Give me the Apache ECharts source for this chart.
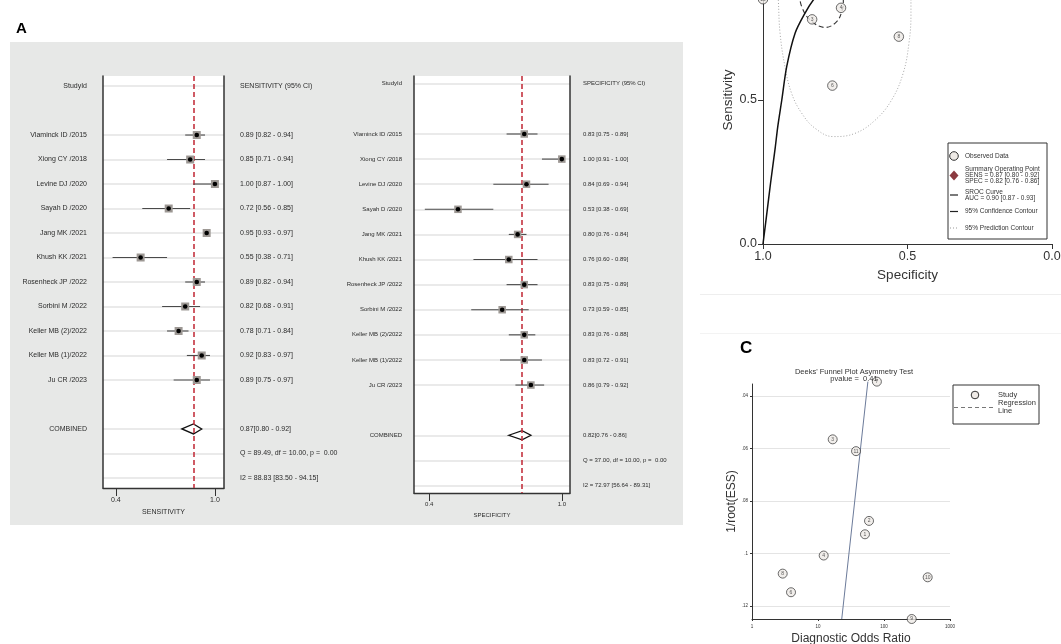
<!DOCTYPE html>
<html>
<head>
<meta charset="utf-8">
<script src="https://cdn.jsdelivr.net/npm/echarts@6/dist/echarts.min.js"></script>
<style>
html, body { margin: 0; padding: 0; background: #ffffff; }
#chart { width: 1061px; height: 644px; }
</style>
</head>
<body>
<div id="chart"></div>
<script>
// ---- Study-level accuracy estimates ----
const studies = ['Vlaminck ID /2015', 'Xiong CY /2018', 'Levine DJ /2020', 'Sayah D /2020',
  'Jang MK /2021', 'Khush KK /2021', 'Rosenheck JP /2022', 'Sorbini M /2022',
  'Keller MB (2)/2022', 'Keller MB (1)/2022', 'Ju CR /2023'];
const studyIds = [11, 10, 9, 8, 7, 6, 5, 4, 3, 2, 1];

const sens   = [0.89, 0.85, 1.00, 0.72, 0.95, 0.55, 0.89, 0.82, 0.78, 0.92, 0.89];
const sensLo = [0.82, 0.71, 0.87, 0.56, 0.93, 0.38, 0.82, 0.68, 0.71, 0.83, 0.75];
const sensHi = [0.94, 0.94, 1.00, 0.85, 0.97, 0.71, 0.94, 0.91, 0.84, 0.97, 0.97];

const spec   = [0.83, 1.00, 0.84, 0.53, 0.80, 0.76, 0.83, 0.73, 0.83, 0.83, 0.86];
const specLo = [0.75, 0.91, 0.69, 0.38, 0.76, 0.60, 0.75, 0.59, 0.76, 0.72, 0.79];
const specHi = [0.89, 1.00, 0.94, 0.69, 0.84, 0.89, 0.89, 0.85, 0.88, 0.91, 0.92];

// pooled estimate [value, lower, upper]
const sensPooled = [0.87, 0.80, 0.92];
const specPooled = [0.82, 0.76, 0.86];
const aucPooled  = [0.90, 0.87, 0.93];

const sensHet = ['Q = 89.49, df = 10.00, p =  0.00', 'I2 = 88.83 [83.50 - 94.15]'];
const specHet = ['Q = 37.00, df = 10.00, p =  0.00', 'I2 = 72.97 [56.64 - 89.31]'];

const forestTicks = [0.4, 1.0];

// ---- SROC panel: [specificity, sensitivity] ----
const srocCurve = [[1.0, 0.0], [0.9875, 0.1], [0.974, 0.21], [0.958, 0.332], [0.949, 0.407],
  [0.935, 0.5], [0.918, 0.616], [0.889, 0.732], [0.855, 0.801], [0.826, 0.847],
  [0.78, 0.90], [0.6, 0.96], [0.3, 0.99], [0.0, 1.0]];
const confContour = [[0.875, 0.87], [0.866, 0.824], [0.837, 0.778], [0.785, 0.752],
  [0.745, 0.772], [0.726, 0.8125], [0.722, 0.847], [0.725, 0.88]];
const predContour = [[0.95, 0.90], [0.947, 0.847], [0.941, 0.732], [0.924, 0.616], [0.901, 0.523],
  [0.866, 0.454], [0.82, 0.402], [0.757, 0.373], [0.682, 0.384], [0.612, 0.43],
  [0.555, 0.5], [0.515, 0.593], [0.495, 0.697], [0.488, 0.80], [0.488, 0.88]];

// ---- Deeks' funnel plot ----
const deeksDor    = [78, 16.7, 37.7, 59.3, 51.5, 12.2, 2.92, 3.9, 459, 263];
const deeksInvEss = [0.0345, 0.0565, 0.061, 0.0876, 0.0927, 0.1008, 0.1077, 0.1148, 0.1091, 0.125];
const deeksIds    = [7, 3, 11, 2, 1, 4, 8, 6, 10, 9];
const deeksLine   = [[22.9, 0.125], [57, 0.0345]];
const deeksPvalue = 0.41;
const deeksYTicks = [0.04, 0.06, 0.08, 0.1, 0.12];

const FONT = 'Liberation Sans, Arial, sans-serif';
const TXT = '#2b2b2b';

// ---- Forest plot helpers ----
const studyRows = studies.map((_, i) => i + 2);
const pooledRow = 14;
const labelRows = [0, ...studyRows, pooledRow];
const statRows = [0, ...studyRows, pooledRow, 15, 16];

function ciText(v, lo, hi) {
  return v.toFixed(2) + ' [' + lo.toFixed(2) + ' - ' + hi.toFixed(2) + ']';
}

function forestRenderer(sq, dotR) {
  return function (params, api) {
    const row = api.value(0), v = api.value(1), lo = api.value(2), hi = api.value(3);
    const a = api.coord([lo, row]), b = api.coord([hi, row]), c = api.coord([v, row]);
    return {
      type: 'group',
      children: [
        { type: 'line', shape: { x1: a[0], y1: a[1], x2: b[0], y2: b[1] },
          style: { stroke: '#4a4a4a', lineWidth: 1.1 } },
        { type: 'rect', shape: { x: c[0] - sq / 2, y: c[1] - sq / 2, width: sq, height: sq },
          style: { fill: '#9d9894' } },
        { type: 'circle', shape: { cx: c[0], cy: c[1], r: dotR }, style: { fill: '#000' } }
      ]
    };
  };
}

function diamondRenderer(halfH) {
  return function (params, api) {
    const row = api.value(0), v = api.value(1), lo = api.value(2), hi = api.value(3);
    const l = api.coord([lo, row]), r = api.coord([hi, row]), c = api.coord([v, row]);
    return {
      type: 'polygon',
      shape: { points: [[l[0], l[1]], [c[0], c[1] - halfH], [r[0], r[1]], [c[0], c[1] + halfH]] },
      style: { fill: '#ffffff', stroke: '#111', lineWidth: 1.3 }
    };
  };
}

function buildForest(cfg) {
  const g = cfg.grid;
  const est = cfg.est, lo = cfg.lo, hi = cfg.hi, pooled = cfg.pooled, het = cfg.het;
  const rightText = function (v) {
    if (v === 0) return cfg.header;
    if (v === pooledRow) return pooled[0].toFixed(2) + '[' + pooled[1].toFixed(2) + ' - ' + pooled[2].toFixed(2) + ']';
    if (v === 15) return het[0];
    if (v === 16) return het[1];
    const i = v - 2;
    return ciText(est[i], lo[i], hi[i]);
  };
  const leftText = function (v) {
    if (v === 0) return 'StudyId';
    if (v === pooledRow) return 'COMBINED';
    return studies[v - 2];
  };
  const xAxis = {
    gridIndex: g, type: 'value', min: cfg.xMin, max: cfg.xMax,
    name: cfg.axisName, nameLocation: 'middle', nameGap: cfg.nameGap,
    nameTextStyle: { fontFamily: FONT, fontSize: cfg.font, color: TXT },
    axisLine: { show: true, onZero: false, lineStyle: { color: '#333', width: 1.3 } },
    axisTick: { show: true, customValues: forestTicks, length: 8, lineStyle: { color: '#333', width: 1 } },
    axisLabel: { customValues: forestTicks, formatter: v => v.toFixed(1), margin: cfg.labelMargin,
      fontFamily: FONT, fontSize: cfg.font, color: TXT },
    splitLine: { show: false }
  };
  const yLeft = {
    gridIndex: g, type: 'value', inverse: true, min: cfg.yMin, max: cfg.yMax, position: 'left',
    axisLine: { show: true, onZero: false, lineStyle: { color: '#333', width: 1.5 } },
    axisTick: { show: false, customValues: statRows },
    axisLabel: { customValues: labelRows, formatter: leftText, margin: cfg.leftMargin,
      fontFamily: FONT, fontSize: cfg.font, color: TXT },
    splitLine: { show: true, lineStyle: { color: '#e3e3e3', width: 1.5 } }
  };
  const yRight = {
    gridIndex: g, type: 'value', inverse: true, min: cfg.yMin, max: cfg.yMax, position: 'right',
    axisLine: { show: true, onZero: false, lineStyle: { color: '#333', width: 1.5 } },
    axisTick: { show: false, customValues: statRows },
    axisLabel: { customValues: statRows, formatter: rightText, margin: cfg.rightMargin,
      fontFamily: FONT, fontSize: cfg.font, color: TXT },
    splitLine: { show: false }
  };
  const rows = studies.map((_, i) => [i + 2, est[i], lo[i], hi[i]]);
  const series = [
    {
      type: 'custom', xAxisIndex: cfg.xIndex, yAxisIndex: cfg.yIndex,
      renderItem: diamondRenderer(cfg.diamondH),
      encode: { x: [1, 2, 3], y: 0 },
      data: [[pooledRow, pooled[0], pooled[1], pooled[2]]],
      z: 4,
      markLine: {
        silent: true, symbol: 'none', label: { show: false },
        lineStyle: { color: '#c4323f', type: [5, 3], width: 1.6 },
        data: [{ xAxis: pooled[0] }]
      }
    },
    {
      type: 'custom', xAxisIndex: cfg.xIndex, yAxisIndex: cfg.yIndex,
      renderItem: forestRenderer(cfg.sq, 2.3),
      encode: { x: [1, 2, 3], y: 0 },
      data: rows, z: 5
    }
  ];
  return { xAxis, yAxes: [yLeft, yRight], series };
}

const forestSens = buildForest({
  grid: 0, xIndex: 0, yIndex: 0, est: sens, lo: sensLo, hi: sensHi, pooled: sensPooled, het: sensHet,
  header: 'SENSITIVITY (95% CI)', axisName: 'SENSITIVITY', xMin: 0.322, xMax: 1.055,
  yMin: -0.41, yMax: 16.41, font: 7, nameGap: 17, labelMargin: 9, leftMargin: 16, rightMargin: 16,
  sq: 8, diamondH: 5
});
const forestSpec = buildForest({
  grid: 1, xIndex: 1, yIndex: 2, est: spec, lo: specLo, hi: specHi, pooled: specPooled, het: specHet,
  header: 'SPECIFICITY (95% CI)', axisName: 'SPECIFICITY', xMin: 0.331, xMax: 1.037,
  yMin: -0.31, yMax: 16.3, font: 6, nameGap: 14, labelMargin: 8, leftMargin: 12, rightMargin: 13,
  sq: 7.5, diamondH: 4.5
});

// ---- Marker style shared by the SROC and funnel panels ----
const studyMarker = {
  symbol: 'circle',
  itemStyle: { color: '#eeeae6', borderColor: '#333', borderWidth: 0.9 },
  label: { show: true, position: 'inside', fontFamily: FONT, fontSize: 5, color: '#333',
    formatter: p => String(p.value[2]) }
};

const srocPoints = studies.map((_, i) => [spec[i], sens[i], studyIds[i]]);
const deeksPoints = deeksDor.map((d, i) => [d, deeksInvEss[i], deeksIds[i]]);

// ---- Legends (drawn as graphic groups) ----
const lgFont = { fontFamily: FONT, fontSize: 6.5, fill: '#333' };
function lgText(x, y, text, size) {
  return { type: 'text', x: x, y: y,
    style: Object.assign({}, lgFont, { text: text, verticalAlign: 'middle', fontSize: size || 6.5 }) };
}
const srocLegend = [
  { type: 'rect', shape: { x: 948, y: 143, width: 99, height: 96 },
    style: { fill: '#ffffff', stroke: '#333', lineWidth: 1 } },
  { type: 'circle', shape: { cx: 954, cy: 156, r: 4.3 }, style: { fill: '#eeeae6', stroke: '#333', lineWidth: 1 } },
  lgText(965, 156, 'Observed Data'),
  { type: 'polygon', shape: { points: [[954, 170.5], [958.5, 175.5], [954, 180.5], [949.5, 175.5]] },
    style: { fill: '#8b3a40' } },
  lgText(965, 169.5, 'Summary Operating Point'),
  lgText(965, 175.5, 'SENS = ' + sensPooled[0].toFixed(2) + ' [' + sensPooled[1].toFixed(2) + ' - ' + sensPooled[2].toFixed(2) + ']'),
  lgText(965, 181.5, 'SPEC = ' + specPooled[0].toFixed(2) + ' [' + specPooled[1].toFixed(2) + ' - ' + specPooled[2].toFixed(2) + ']'),
  { type: 'line', shape: { x1: 950, y1: 195, x2: 958, y2: 195 }, style: { stroke: '#222', lineWidth: 1.2 } },
  lgText(965, 192.5, 'SROC Curve'),
  lgText(965, 198.5, 'AUC = ' + aucPooled[0].toFixed(2) + ' [' + aucPooled[1].toFixed(2) + ' - ' + aucPooled[2].toFixed(2) + ']'),
  { type: 'line', shape: { x1: 950, y1: 211.5, x2: 958, y2: 211.5 }, style: { stroke: '#222', lineWidth: 1.2 } },
  lgText(965, 211.5, '95% Confidence Contour'),
  { type: 'line', shape: { x1: 950, y1: 228, x2: 958, y2: 228 },
    style: { stroke: '#999', lineWidth: 1, lineDash: [1, 2] } },
  lgText(965, 228, '95% Prediction Contour')
];
const deeksLegend = [
  { type: 'rect', shape: { x: 953, y: 385, width: 86, height: 39 },
    style: { fill: '#ffffff', stroke: '#333', lineWidth: 1 } },
  { type: 'circle', shape: { cx: 975, cy: 395, r: 3.8 }, style: { fill: '#eeeae6', stroke: '#333', lineWidth: 1 } },
  lgText(998, 395, 'Study', 7.5),
  { type: 'line', shape: { x1: 954, y1: 407.5, x2: 993, y2: 407.5 },
    style: { stroke: '#777', lineWidth: 1, lineDash: [4, 3] } },
  lgText(998, 403, 'Regression', 7.5),
  lgText(998, 411, 'Line', 7.5)
];

const chart = echarts.init(document.getElementById('chart'), null, { renderer: 'canvas' });

chart.setOption({
  backgroundColor: '#ffffff',
  animation: false,
  textStyle: { fontFamily: FONT },
  title: [
    { text: 'A', left: 11, top: 16, textStyle: { fontFamily: FONT, fontSize: 15, fontWeight: 'bold', color: '#000' } },
    { text: 'C', left: 735, top: 335, textStyle: { fontFamily: FONT, fontSize: 17, fontWeight: 'bold', color: '#000' } },
    { text: "Deeks' Funnel Plot Asymmetry Test\npvalue =  " + deeksPvalue.toFixed(2), left: 849, top: 364,
      textAlign: 'center',
      textStyle: { fontFamily: FONT, fontSize: 7.5, lineHeight: 6.5, fontWeight: 'normal', color: '#333' } }
  ],
  graphic: [
    { type: 'rect', z: -10, shape: { x: 10, y: 42, width: 673, height: 483 }, style: { fill: '#e7e8e7' } },
    { type: 'line', z: -10, shape: { x1: 700, y1: 294.5, x2: 1061, y2: 294.5 }, style: { stroke: '#eeeeee', lineWidth: 1 } },
    { type: 'line', z: -10, shape: { x1: 700, y1: 333.5, x2: 1061, y2: 333.5 }, style: { stroke: '#f3f3f3', lineWidth: 1 } },
    { type: 'group', children: srocLegend, z: 20 },
    { type: 'group', children: deeksLegend, z: 20 }
  ],
  grid: [
    { left: 103, top: 76, width: 121, height: 412, show: true, backgroundColor: '#ffffff', borderWidth: 0, outerBoundsMode: 'none' },
    { left: 414, top: 76, width: 156, height: 417, show: true, backgroundColor: '#ffffff', borderWidth: 0, outerBoundsMode: 'none' },
    { left: 763, top: -44, width: 289, height: 288, outerBoundsMode: 'none' },
    { left: 752, top: 384, width: 198, height: 235, outerBoundsMode: 'none' }
  ],
  xAxis: [
    forestSens.xAxis,
    forestSpec.xAxis,
    {
      gridIndex: 2, type: 'value', min: 0, max: 1, interval: 0.5, inverse: true,
      name: 'Specificity', nameLocation: 'middle', nameGap: 24,
      nameTextStyle: { fontFamily: FONT, fontSize: 13.5, color: '#333' },
      axisLine: { show: true, onZero: false, lineStyle: { color: '#333', width: 1 } },
      axisTick: { show: true, length: 5, lineStyle: { color: '#333' } },
      axisLabel: { formatter: v => v.toFixed(1), fontFamily: FONT, fontSize: 12.5, color: '#333', margin: 6 },
      splitLine: { show: false }
    },
    {
      gridIndex: 3, type: 'log', logBase: 10, min: 1, max: 1000,
      name: 'Diagnostic Odds Ratio', nameLocation: 'middle', nameGap: 14,
      nameTextStyle: { fontFamily: FONT, fontSize: 12, color: '#333' },
      axisLine: { show: true, onZero: false, lineStyle: { color: '#333', width: 1 } },
      axisTick: { show: true, length: 2, lineStyle: { color: '#333' } },
      axisLabel: { formatter: v => String(Math.round(v)), fontFamily: FONT, fontSize: 4.5, color: '#333', margin: 5 },
      splitLine: { show: false }
    }
  ],
  yAxis: [
    forestSens.yAxes[0], forestSens.yAxes[1],
    forestSpec.yAxes[0], forestSpec.yAxes[1],
    {
      gridIndex: 2, type: 'value', min: 0, max: 1, interval: 0.5,
      name: 'Sensitivity', nameLocation: 'middle', nameGap: 28, nameRotate: 90,
      nameTextStyle: { fontFamily: FONT, fontSize: 13.5, color: '#333' },
      axisLine: { show: true, onZero: false, lineStyle: { color: '#333', width: 1 } },
      axisTick: { show: true, length: 5, lineStyle: { color: '#333' } },
      axisLabel: { formatter: v => v.toFixed(1), fontFamily: FONT, fontSize: 12.5, color: '#333', margin: 6 },
      splitLine: { show: false }
    },
    {
      gridIndex: 3, type: 'value', inverse: true, min: 0.0354, max: 0.125,
      name: '1/root(ESS)', nameLocation: 'middle', nameGap: 12, nameRotate: 90,
      nameTextStyle: { fontFamily: FONT, fontSize: 12, color: '#333' },
      axisLine: { show: true, onZero: false, lineStyle: { color: '#333', width: 1 } },
      axisTick: { show: true, length: 2, customValues: deeksYTicks, lineStyle: { color: '#333' } },
      axisLabel: { customValues: deeksYTicks, formatter: v => String(+v.toFixed(2)).replace(/^0/, ''),
        fontFamily: FONT, fontSize: 4.5, color: '#333', margin: 4 },
      splitLine: { show: true, lineStyle: { color: '#e4e4e4', width: 1 } }
    }
  ],
  series: [
    ...forestSens.series,
    ...forestSpec.series,
    // SROC panel
    {
      type: 'line', xAxisIndex: 2, yAxisIndex: 4, data: predContour, smooth: 0.4,
      symbol: 'none', lineStyle: { color: '#a5a5a5', width: 1, type: [1, 2] }, z: 2
    },
    {
      type: 'line', xAxisIndex: 2, yAxisIndex: 4, data: confContour, smooth: 0.4,
      symbol: 'none', lineStyle: { color: '#333', width: 1.1, type: [5, 3] }, z: 3
    },
    {
      type: 'line', xAxisIndex: 2, yAxisIndex: 4, data: srocCurve, smooth: 0.3,
      symbol: 'none', lineStyle: { color: '#111', width: 1.5 }, z: 3
    },
    Object.assign({
      type: 'scatter', xAxisIndex: 2, yAxisIndex: 4, symbolSize: 9.5, data: srocPoints, z: 5
    }, studyMarker),
    {
      type: 'scatter', xAxisIndex: 2, yAxisIndex: 4, symbol: 'diamond', symbolSize: 10,
      itemStyle: { color: '#8b3a40' }, data: [[specPooled[0], sensPooled[0]]], z: 6
    },
    // Deeks' funnel panel
    {
      type: 'line', xAxisIndex: 3, yAxisIndex: 5, data: deeksLine, clip: false,
      symbol: 'none', lineStyle: { color: '#6c7b9a', width: 1 }, z: 3
    },
    Object.assign({
      type: 'scatter', xAxisIndex: 3, yAxisIndex: 5, symbolSize: 9, data: deeksPoints, clip: false, z: 5
    }, studyMarker)
  ]
});
</script>
</body>
</html>
